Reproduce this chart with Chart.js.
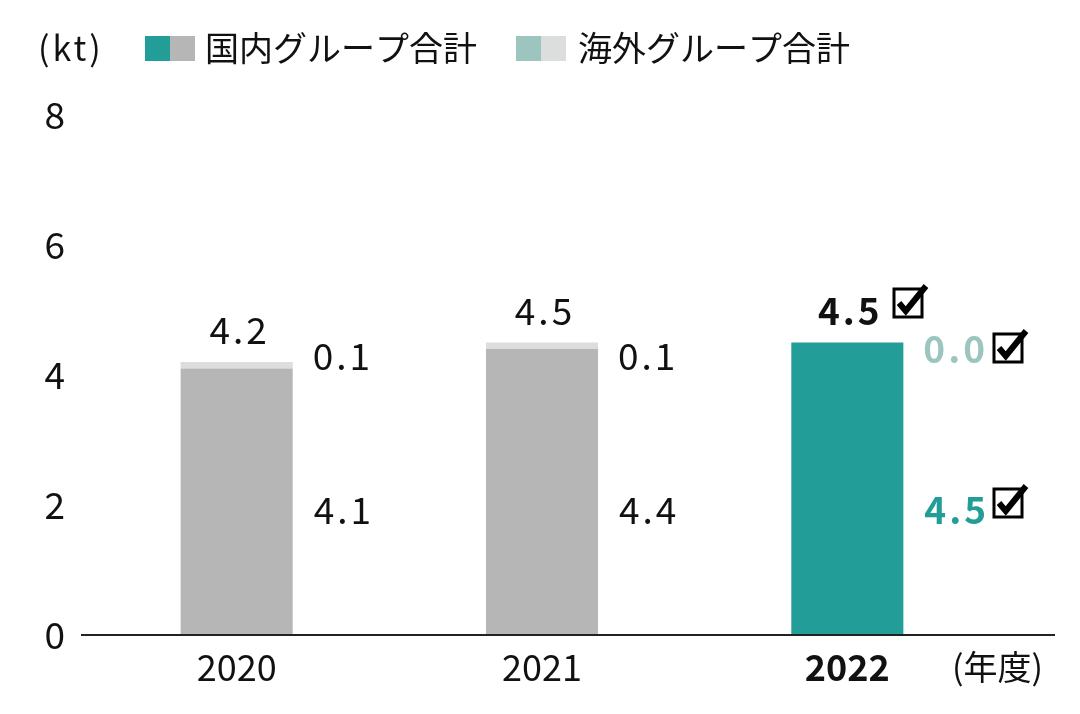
<!DOCTYPE html>
<html>
<head>
<meta charset="utf-8">
<script src="https://cdn.jsdelivr.net/npm/chart.js@4"></script>
<style>
  html, body { margin: 0; padding: 0; background: #fff; }
  #wrap { width: 1080px; height: 714px; }
</style>
</head>
<body>
<div id="wrap"><canvas id="myChart" width="1080" height="714"></canvas></div>
<script>
// 年度
var years = ['2020', '2021', '2022'];
// 国内グループ合計 / 海外グループ合計 (kt)
var domestic = [4.1, 4.4, 4.5];
var overseas = [0.1, 0.1, 0.0];
var totals = ['4.2', '4.5', '4.5'];
var yTicks = [0, 2, 4, 6, 8];

var domColors = ['#b5b6b5', '#b5b6b5', '#239d98'];
var ovsColors = ['#dcdddd', '#dcdddd', '#9cc5c0'];
var FONT = "'Noto Sans CJK JP', 'Noto Sans', sans-serif";

function checkBox(ctx, x, y, s) {
  // box with a bold tick, top-left at x,y
  ctx.save();
  ctx.strokeStyle = '#000';
  ctx.lineWidth = 3;
  ctx.strokeRect(x, y, s, s);
  ctx.lineWidth = 6;
  ctx.lineJoin = 'miter';
  ctx.beginPath();
  ctx.moveTo(x + 5, y + s * 0.5);
  ctx.lineTo(x + s * 0.42, y + s - 6);
  ctx.lineTo(x + s + 4, y - 3);
  ctx.stroke();
  ctx.restore();
}

var extras = {
  id: 'extras',
  afterDraw: function(chart) {
    var ctx = chart.ctx;
    var ys = chart.scales.y;
    var area = chart.chartArea;
    ctx.save();

    // baseline
    ctx.strokeStyle = '#222';
    ctx.lineWidth = 2;
    ctx.beginPath();
    ctx.moveTo(81, area.bottom);
    ctx.lineTo(1055, area.bottom);
    ctx.stroke();

    // legend
    ctx.textBaseline = 'middle';
    ctx.textAlign = 'left';
    ctx.fillStyle = '#111';
    ctx.font = '34px ' + FONT;
    ctx.letterSpacing = '3px';
    ctx.fillText('(kt)', 38, 48);
    ctx.letterSpacing = '0px';
    ctx.fillStyle = domColors[2]; ctx.fillRect(145, 36, 25, 25);
    ctx.fillStyle = domColors[0]; ctx.fillRect(170, 36, 25, 25);
    ctx.fillStyle = '#111';
    ctx.fillText('国内グループ合計', 205, 48);
    ctx.fillStyle = ovsColors[2]; ctx.fillRect(516, 36, 25, 25);
    ctx.fillStyle = ovsColors[0]; ctx.fillRect(541, 36, 25, 25);
    ctx.fillStyle = '#111';
    ctx.fillText('海外グループ合計', 578, 48);

    // unit on x axis
    ctx.fillText('(年度)', 952, 667);

    // value labels
    var meta = chart.getDatasetMeta(1);
    ctx.letterSpacing = '3px';
    years.forEach(function(yr, i) {
      var bar = meta.data[i];
      var cx = bar.x;
      var right = bar.x + bar.width / 2;
      var last = i === years.length - 1;
      var f = (last ? '600 ' : '') + '37px ' + FONT;

      ctx.textAlign = 'center';
      ctx.fillStyle = '#111';
      ctx.font = f;
      ctx.fillText(totals[i], cx + 3, bar.y - 32);

      ctx.textAlign = 'left';
      ctx.fillStyle = last ? ovsColors[2] : '#111';
      var oy = ys.getPixelForValue(last ? 4.4 : 4.3);
      ctx.fillText(overseas[i].toFixed(1), right + 20, oy);

      ctx.fillStyle = last ? domColors[2] : '#111';
      var dy = ys.getPixelForValue(1.92);
      ctx.fillText(domestic[i].toFixed(1), right + 21, dy);

      if (last) {
        checkBox(ctx, 894, 289, 28);
        checkBox(ctx, 994, 334, 28);
        checkBox(ctx, 994, 489, 28);
      }
    });
    ctx.restore();
  }
};

var ctx = document.getElementById('myChart').getContext('2d');
var myChart = new Chart(ctx, {
  type: 'bar',
  data: {
    labels: years,
    datasets: [
      { label: '国内グループ合計', data: domestic, backgroundColor: domColors },
      { label: '海外グループ合計', data: overseas, backgroundColor: ovsColors }
    ]
  },
  options: {
    responsive: false,
    animation: false,
    devicePixelRatio: 1,
    layout: { padding: { top: 115, right: 80, left: 0, bottom: 0 } },
    datasets: { bar: { categoryPercentage: 1, barPercentage: 0.367 } },
    plugins: { legend: { display: false }, tooltip: { enabled: false } },
    scales: {
      x: {
        stacked: true,
        grid: { display: false, drawTicks: false },
        border: { display: false },
        ticks: {
          color: '#111',
          padding: 11,
          font: function(c) {
            return { family: FONT, size: 36, weight: c.index === 2 ? '600' : 'normal' };
          }
        },
        afterFit: function(s) { s.height = 79; }
      },
      y: {
        stacked: true,
        min: 0,
        max: 8,
        afterBuildTicks: function(s) { s.ticks = yTicks.map(function(v) { return { value: v }; }); },
        grid: { display: false, drawTicks: false },
        border: { display: false },
        ticks: { color: '#111', padding: 19, font: { family: FONT, size: 37 } },
        afterFit: function(s) { s.width = 84; }
      }
    }
  },
  plugins: [extras]
});
</script>
</body>
</html>
